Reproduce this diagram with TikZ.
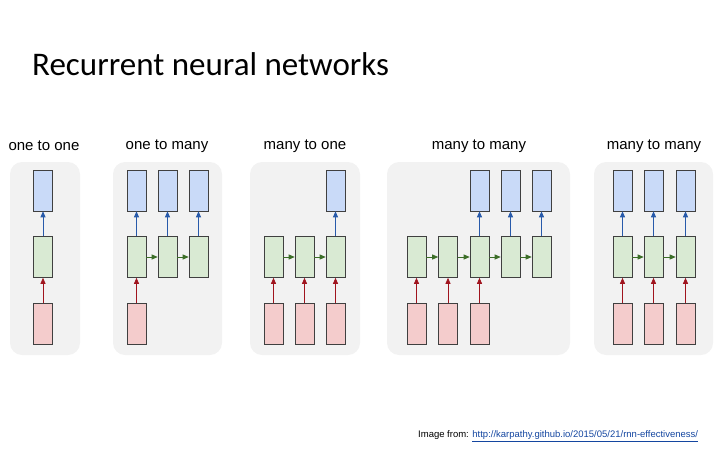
\documentclass[tikz,border=0pt]{standalone}
\usepackage{fontspec}
\setmainfont{Liberation Sans}
\newfontfamily\titlefont{Carlito}
\usetikzlibrary{arrows.meta}
\definecolor{cblue}{RGB}{201,218,248}
\definecolor{cgreen}{RGB}{217,234,211}
\definecolor{cred}{RGB}{244,204,204}
\definecolor{ablue}{RGB}{40,90,170}
\definecolor{ared}{RGB}{160,20,30}
\definecolor{agreen}{RGB}{60,110,40}
\definecolor{linkblue}{RGB}{20,70,160}
\begin{document}
\begin{tikzpicture}[x=1pt,y=-1pt,
  panel/.style={fill=black!5,draw=none,rounded corners=12pt},
  cell/.style={draw=black!75,line width=0.6pt,minimum width=19pt,minimum height=41pt,inner sep=0pt},
  inp/.style={cell,fill=cred},
  hid/.style={cell,fill=cgreen},
  outp/.style={cell,fill=cblue},
  tip/.style={-{Triangle[length=6pt,width=5pt]},line width=0.8pt},
  ra/.style={tip,draw=ared},
  ga/.style={tip,draw=agreen},
  ba/.style={tip,draw=ablue},
  lab/.style={font=\fontsize{15}{17}\selectfont}]
\useasboundingbox (0,0) rectangle (720,450);
\node[anchor=west,inner sep=0pt,font=\titlefont\fontsize{33}{38}\selectfont] (title) at (32,64) {Recurrent neural networks};
% panels
\fill[panel] (10,162) rectangle (80,355);
\fill[panel] (113,162) rectangle (222,355);
\fill[panel] (250,162) rectangle (360,355);
\fill[panel] (387,162) rectangle (570,355);
\fill[panel] (594,162) rectangle (713,355);
\node[lab] (l1) at (44,146) {one to one};
\node[lab] (l2) at (167,146) {one to many};
\node[lab] (l3) at (305,146) {many to one};
\node[lab] (l4) at (479,146) {many to many};
\node[lab] (l5) at (654,146) {many to many};
% one to one
\node[outp] (a1o) at (43,190.5) {};
\node[hid] (a1h) at (43,257) {};
\node[inp] (a1i) at (43,324) {};
\draw[ra] (a1i) -- (a1h);
\draw[ba] (a1h) -- (a1o);
% one to many
\foreach \i/\x in {1/136.5,2/167.5,3/198.5}{
  \node[outp] (b\i o) at (\x,190.5) {};
  \node[hid] (b\i h) at (\x,257) {};
  \draw[ba] (b\i h) -- (b\i o);
}
\node[inp] (b1i) at (136.5,324) {};
\draw[ra] (b1i) -- (b1h);
\draw[ga] (b1h) -- (b2h);
\draw[ga] (b2h) -- (b3h);
% many to one
\foreach \i/\x in {1/273.5,2/304.5,3/335.5}{
  \node[hid] (c\i h) at (\x,257) {};
  \node[inp] (c\i i) at (\x,324) {};
  \draw[ra] (c\i i) -- (c\i h);
}
\node[outp] (c3o) at (335.5,190.5) {};
\draw[ba] (c3h) -- (c3o);
\draw[ga] (c1h) -- (c2h);
\draw[ga] (c2h) -- (c3h);
% many to many (delayed)
\foreach \i/\x in {1/416.5,2/448,3/479.5,4/510.5,5/541.5}{
  \node[hid] (d\i h) at (\x,257) {};
}
\foreach \i in {1,2,3}{
  \node[inp] (d\i i) at (d\i h |- 0,324) {};
  \draw[ra] (d\i i) -- (d\i h);
}
\foreach \i in {3,4,5}{
  \node[outp] (d\i o) at (d\i h |- 0,190.5) {};
  \draw[ba] (d\i h) -- (d\i o);
}
\draw[ga] (d1h) -- (d2h);
\draw[ga] (d2h) -- (d3h);
\draw[ga] (d3h) -- (d4h);
\draw[ga] (d4h) -- (d5h);
% many to many (synced)
\foreach \i/\x in {1/622.5,2/653.5,3/685.5}{
  \node[outp] (e\i o) at (\x,190.5) {};
  \node[hid] (e\i h) at (\x,257) {};
  \node[inp] (e\i i) at (\x,324) {};
  \draw[ra] (e\i i) -- (e\i h);
  \draw[ba] (e\i h) -- (e\i o);
}
\draw[ga] (e1h) -- (e2h);
\draw[ga] (e2h) -- (e3h);
% footer
\node[anchor=west,font=\fontsize{9.5}{11}\selectfont,inner sep=0pt] (src) at (418,436)
  {Image from: \textcolor{linkblue}{\underline{http://karpathy.github.io/2015/05/21/rnn-effectiveness/}}};
\end{tikzpicture}
\end{document}
